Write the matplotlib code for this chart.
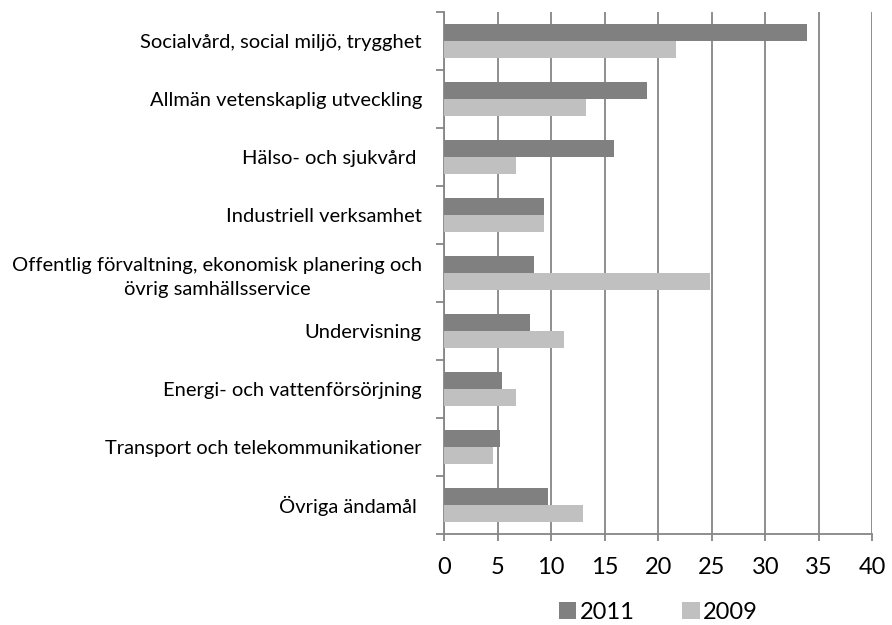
import numpy as np
import matplotlib
matplotlib.use("Agg")
import matplotlib.pyplot as plt

# Data
categories = [
    "Socialvård, social miljö, trygghet",
    "Allmän vetenskaplig utveckling",
    "Hälso- och sjukvård ",
    "Industriell verksamhet",
    "Offentlig förvaltning, ekonomisk planering och\növrig samhällsservice",
    "Undervisning",
    "Energi- och vattenförsörjning",
    "Transport och telekommunikationer",
    "Övriga ändamål ",
]
values_2011 = [33.9, 18.9, 15.9, 9.3, 8.4, 8.0, 5.4, 5.2, 9.7]
values_2009 = [21.7, 13.2, 6.7, 9.3, 24.8, 11.2, 6.7, 4.6, 13.0]
x_ticks = [0, 5, 10, 15, 20, 25, 30, 35, 40]

plt.rcParams['font.family'] = ['Lato', 'DejaVu Sans']

fig = plt.figure(figsize=(8.92, 6.25), dpi=100)
ax = fig.add_axes([0.498, 0.146, 0.48, 0.835])

n = len(categories)
pos = np.arange(n)
h = 0.29
grid_col = '#868686'

ax.barh(pos - h / 2, values_2011, height=h, color='#808080', label='2011', zorder=3)
ax.barh(pos + h / 2, values_2009, height=h, color='#c0c0c0', label='2009', zorder=3)

ax.set_ylim(n - 0.5, -0.5)
ax.set_xlim(0, 40)
ax.set_xticks(x_ticks)
ax.set_xticklabels([str(t) for t in x_ticks], fontsize=17)

ax.set_yticks(pos)
ax.set_yticklabels(categories, fontsize=14.5, multialignment='center',
                   linespacing=1.45)
ax.set_yticks(np.arange(n + 1) - 0.5, minor=True)
ax.tick_params(axis='y', which='major', length=0, pad=16)
ax.tick_params(axis='y', which='minor', length=6, color=grid_col, width=1.3)
ax.tick_params(axis='x', length=5, color=grid_col, width=1.3, pad=12)

ax.grid(axis='x', color=grid_col, linewidth=1.3, zorder=0)
for side in ['top', 'right']:
    ax.spines[side].set_visible(False)
for side in ['left', 'bottom']:
    ax.spines[side].set_color(grid_col)
    ax.spines[side].set_linewidth(1.3)

ax.legend(loc='center', bbox_to_anchor=(0.5, -0.15), ncol=2, frameon=False,
          fontsize=17, handlelength=0.75, handleheight=0.75, handletextpad=0.15,
          columnspacing=2.0, borderpad=0)

fig.savefig('out.png', dpi=100)
